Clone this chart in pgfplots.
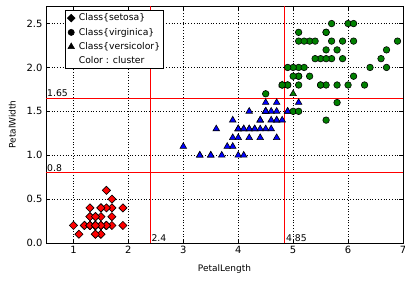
\documentclass[border=0pt]{standalone}
\usepackage{fontspec}
\setmainfont{DejaVu Sans}
\usepackage{pgfplots}
\pgfplotsset{compat=1.18}
\definecolor{mplgreen}{rgb}{0,0.5,0}
\begin{document}
\begin{tikzpicture}
\begin{axis}[
  scale only axis,
  width=357bp, height=237bp,
  xmin=0.5, xmax=7, ymin=0, ymax=2.7,
  xtick={1,2,3,4,5,6,7},
  ytick={0,0.5,1,1.5,2,2.5},
  yticklabel style={/pgf/number format/.cd,fixed,fixed zerofill,precision=1},
  /pgf/number format/assume math mode=true,
  tick label style={font=\fontsize{10}{12}\selectfont},
  label style={font=\fontsize{9}{11}\selectfont},
  xlabel={PetalLength}, ylabel={PetalWidth},
  xlabel style={yshift=-4pt},
  ylabel style={yshift=4pt},
  grid=major,
  major grid style={black, line width=0.5pt, dash pattern=on 1pt off 1.8pt},
  axis line style={line width=0.8pt},
  tick style={black, line width=0.6pt},
  tick align=inside,
  major tick length=4pt,
  legend style={at={(0.053,0.983)}, anchor=north west, draw=black, line width=0.6pt, fill=white,
    font=\fontsize{9.3}{10.5}\selectfont, row sep=3.2pt, inner sep=2.2pt,
    nodes={inner sep=1.3pt},
    /tikz/every odd column/.append style={column sep=2.5pt}},
  legend cell align=left,
  clip=true,
]
\addlegendimage{only marks, mark=square*, mark size=2.7pt, mark options={rotate=45, fill=black, draw=black}}
\addlegendentry{Class\{setosa\}}
\addlegendimage{only marks, mark=*, mark size=3.1pt, mark options={fill=black, draw=black}}
\addlegendentry{Class\{virginica\}}
\addlegendimage{only marks, mark=triangle*, mark size=3.7pt, mark options={fill=black, draw=black}}
\addlegendentry{Class\{versicolor\}}
\addlegendimage{only marks, mark=*, mark size=3.1pt, mark options={opacity=0}}
\addlegendentry{Color : cluster}

% reference lines
\addplot[red, line width=1pt, forget plot] coordinates {(2.4,0) (2.4,2.7)};
\addplot[red, line width=1pt, forget plot] coordinates {(4.85,0) (4.85,2.7)};
\addplot[red, line width=1pt, forget plot] coordinates {(0.5,1.65) (7,1.65)};
\addplot[red, line width=1pt, forget plot] coordinates {(0.5,0.8) (7,0.8)};

% setosa
\addplot[only marks, forget plot, mark=square*, mark size=2.9pt, mark options={rotate=45, fill=red, draw=black, line width=0.6pt}] coordinates {
(1.4,0.2)(1.4,0.2)(1.3,0.2)(1.5,0.2)(1.4,0.2)(1.7,0.4)(1.4,0.3)(1.5,0.2)(1.4,0.2)(1.5,0.1)
(1.5,0.2)(1.6,0.2)(1.4,0.1)(1.1,0.1)(1.2,0.2)(1.5,0.4)(1.3,0.4)(1.4,0.3)(1.7,0.3)(1.5,0.3)
(1.7,0.2)(1.5,0.4)(1.0,0.2)(1.7,0.5)(1.9,0.2)(1.6,0.2)(1.6,0.4)(1.5,0.2)(1.4,0.2)(1.6,0.2)
(1.6,0.2)(1.5,0.4)(1.5,0.1)(1.4,0.2)(1.5,0.2)(1.2,0.2)(1.3,0.2)(1.4,0.1)(1.3,0.2)(1.5,0.2)
(1.3,0.3)(1.3,0.3)(1.3,0.2)(1.6,0.6)(1.9,0.4)(1.4,0.3)(1.6,0.2)(1.4,0.2)(1.5,0.2)(1.4,0.2)
};

% versicolor, blue cluster
\addplot[only marks, forget plot, mark=triangle*, mark size=3.8pt, mark options={fill=blue, draw=black, line width=0.6pt}] coordinates {
(4.7,1.4)(4.5,1.5)(4.9,1.5)(4.0,1.3)(4.6,1.5)(4.5,1.3)(4.7,1.6)(3.3,1.0)(4.6,1.3)(3.9,1.4)
(3.5,1.0)(4.2,1.5)(4.0,1.0)(4.7,1.4)(3.6,1.3)(4.4,1.4)(4.5,1.5)(4.1,1.0)(4.5,1.5)(3.9,1.1)
(4.0,1.3)(4.9,1.5)(4.7,1.2)(4.3,1.3)(4.4,1.4)(4.8,1.4)(4.5,1.5)(3.5,1.0)(3.8,1.1)(3.7,1.0)
(3.9,1.2)(5.1,1.6)(4.5,1.5)(4.5,1.6)(4.7,1.5)(4.4,1.3)(4.1,1.3)(4.0,1.3)(4.4,1.2)(4.6,1.4)
(4.0,1.2)(3.3,1.0)(4.2,1.3)(4.2,1.2)(4.2,1.3)(4.3,1.3)(3.0,1.1)(4.1,1.3)
};
% versicolor, green cluster
\addplot[only marks, forget plot, mark=triangle*, mark size=3.8pt, mark options={fill=mplgreen, draw=black, line width=0.6pt}] coordinates {
(4.8,1.8)(5.0,1.7)
};

% virginica
\addplot[only marks, forget plot, mark=*, mark size=3.3pt, mark options={fill=mplgreen, draw=black, line width=0.6pt}] coordinates {
(6.0,2.5)(5.1,1.9)(5.9,2.1)(5.6,1.8)(5.8,2.2)(6.6,2.1)(4.5,1.7)(6.3,1.8)(5.8,1.8)(6.1,2.5)
(5.1,2.0)(5.3,1.9)(5.5,2.1)(5.0,2.0)(5.1,2.4)(5.3,2.3)(5.5,1.8)(6.7,2.2)(6.9,2.3)(5.0,1.5)
(5.7,2.3)(4.9,2.0)(6.7,2.0)(4.9,1.8)(5.7,2.1)(6.0,1.8)(4.8,1.8)(4.9,1.8)(5.6,2.1)(5.8,1.6)
(6.1,1.9)(6.4,2.0)(5.6,2.2)(5.1,1.5)(5.6,1.4)(6.1,2.3)(5.6,2.4)(5.5,1.8)(4.8,1.8)(5.4,2.1)
(5.6,2.4)(5.1,2.3)(5.1,1.9)(5.9,2.3)(5.7,2.5)(5.2,2.3)(5.0,1.9)(5.2,2.0)(5.4,2.3)(5.1,1.8)
};

\node[anchor=south west, inner sep=1pt, font=\fontsize{9.3}{10}\selectfont] at (axis cs:2.4,0) {2.4};
\node[anchor=south west, inner sep=1pt, font=\fontsize{9.3}{10}\selectfont] at (axis cs:4.85,0) {4.85};
\node[anchor=south west, inner sep=1pt, font=\fontsize{9.3}{10}\selectfont] at (axis cs:0.5,1.65) {1.65};
\node[anchor=south west, inner sep=1pt, font=\fontsize{9.3}{10}\selectfont] at (axis cs:0.5,0.8) {0.8};
\end{axis}
\pgfresetboundingbox
\path ([shift={(-46bp,-39bp)}]current axis.south west) rectangle ([shift={(2bp,6bp)}]current axis.north east);
\end{tikzpicture}
\end{document}
